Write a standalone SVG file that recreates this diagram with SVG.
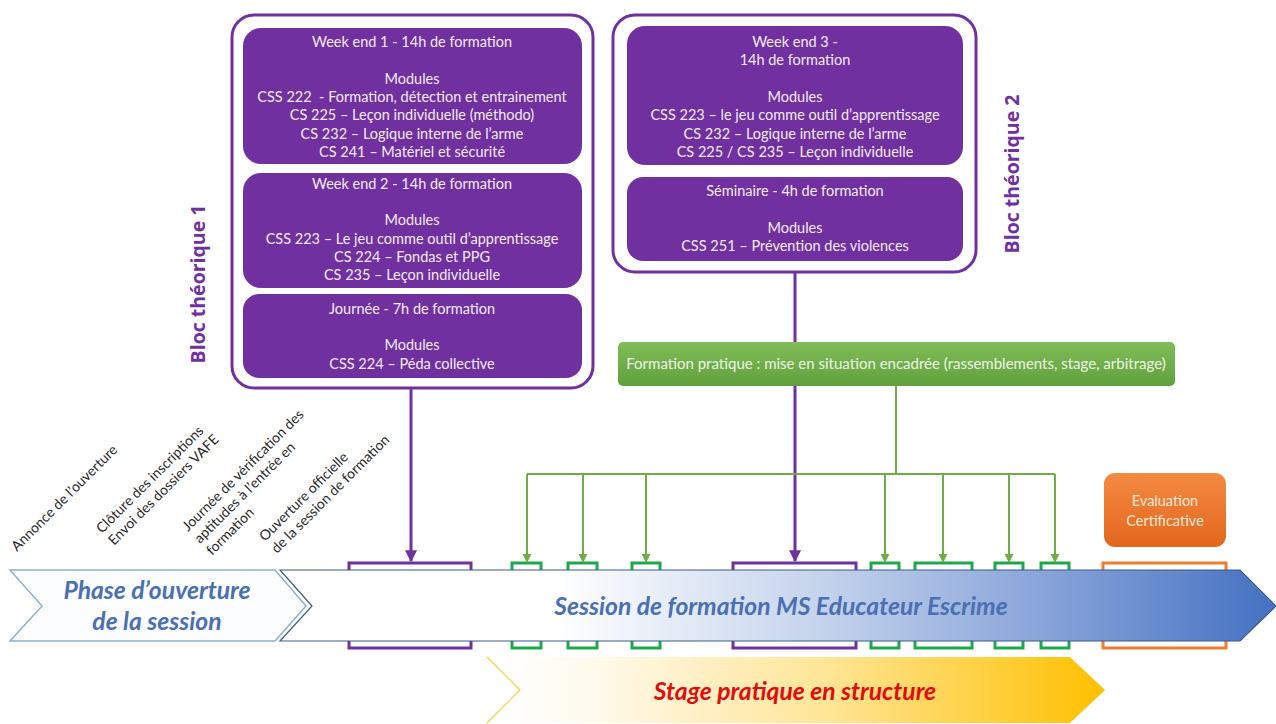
<svg xmlns="http://www.w3.org/2000/svg" width="1276" height="724" viewBox="0 0 1276 724">
<style>
.bt{font-family:Lato,"Liberation Sans",sans-serif;font-size:14.5px;fill:#f3ecf8;text-anchor:middle}
.outer{fill:#fff;stroke:#7030a0;stroke-width:3}
.inner{fill:#7030a0}
.rot{font-family:Lato,"Liberation Sans",sans-serif;font-size:14px;fill:#262626}
.bloc{font-family:"Open Sans","Liberation Sans",sans-serif;font-size:19.5px;font-weight:bold;fill:#7030a0;text-anchor:middle}
.big{font-family:Lato,"Liberation Sans",sans-serif;font-size:24.7px;font-weight:bold;font-style:italic;text-anchor:middle}
.pl{stroke:#7030a0;stroke-width:3;fill:none}
.gl{stroke:#70ad47;stroke-width:2;fill:none}
.pr{fill:none;stroke:#7030a0;stroke-width:3}
.gr{fill:none;stroke:#1fa84a;stroke-width:3}
</style>
<defs>
<marker id="ap" viewBox="0 0 10 10" refX="9" refY="5" markerWidth="4" markerHeight="4" orient="auto" markerUnits="strokeWidth"><path d="M0,0 L10,5 L0,10 z" fill="#7030a0"/></marker>
<marker id="ag" viewBox="0 0 10 10" refX="9" refY="5" markerWidth="4.5" markerHeight="4.5" orient="auto" markerUnits="strokeWidth"><path d="M0,0 L10,5 L0,10 z" fill="#70ad47"/></marker>
<linearGradient id="gSess" gradientUnits="userSpaceOnUse" x1="278" y1="0" x2="1276" y2="0">
<stop offset="0" stop-color="#ffffff"/><stop offset="0.28" stop-color="#ffffff"/><stop offset="0.55" stop-color="#c3d2ec"/><stop offset="0.8" stop-color="#7f9dd6"/><stop offset="1" stop-color="#4471c2"/>
</linearGradient>
<linearGradient id="gStage" gradientUnits="userSpaceOnUse" x1="487" y1="0" x2="1105" y2="0">
<stop offset="0" stop-color="#ffffff"/><stop offset="0.15" stop-color="#fffbf0"/><stop offset="0.55" stop-color="#ffe596"/><stop offset="1" stop-color="#ffc000"/>
</linearGradient>
<linearGradient id="gGreen" x1="0" y1="0" x2="0" y2="1"><stop offset="0" stop-color="#80bd58"/><stop offset="1" stop-color="#60a03c"/></linearGradient>
<linearGradient id="gOrange" x1="0" y1="0" x2="0" y2="1"><stop offset="0" stop-color="#f58a42"/><stop offset="1" stop-color="#e2661c"/></linearGradient>
</defs>
<rect width="1276" height="724" fill="#fff"/>

<g id="arrow-stage">
<path d="M487,657 L1070,657 L1105,690 L1070,723 L487,723 L520,690 Z" fill="url(#gStage)"/>
<path d="M487,657 L520,690 L487,723" fill="none" stroke="#f2d230" stroke-width="1.2"/>
<text class="big" x="795" y="700" fill="#e30b0b">Stage pratique en structure</text>
</g>

<g id="markers-on-timeline">
<rect class="pr" x="349" y="563" width="122" height="85"/>
<rect class="pr" x="733" y="563" width="123" height="85"/>
<rect class="gr" x="512" y="563" width="29" height="85"/>
<rect class="gr" x="568" y="563" width="29" height="85"/>
<rect class="gr" x="632" y="563" width="28" height="85"/>
<rect class="gr" x="871" y="563" width="28" height="85"/>
<rect class="gr" x="915" y="563" width="57" height="85"/>
<rect class="gr" x="995" y="563" width="28" height="85"/>
<rect class="gr" x="1041" y="563" width="28" height="85"/>
<rect fill="none" stroke="#ed7d31" stroke-width="3" x="1103" y="563" width="123" height="85"/>
</g>

<g id="arrow-phase">
<path d="M10,570 L275,570 L306,606 L275,641 L10,641 L42,606 Z" fill="#fbfdfe" stroke="#8fb0cc" stroke-width="1.5"/>
<text class="big" fill="#4a6fb3"><tspan x="157" y="599">Phase d’ouverture</tspan><tspan x="157" y="630">de la session</tspan></text>
</g>

<g id="arrow-session">
<path d="M280,570 L1240,570 L1276,606 L1240,641 L280,641 L312,606 Z" fill="url(#gSess)" stroke="#3d5a8c" stroke-width="1.2"/>
<text class="big" x="781" y="615" fill="#4a6fb3">Session de formation MS Educateur Escrime</text>
</g>

<g id="bloc1">
<rect class="outer" x="232" y="15" width="361" height="373" rx="22"/>
<text class="bloc" transform="translate(205,284) rotate(-90)">Bloc théorique 1</text>
</g>
<g id="we1">
<rect class="inner" x="243" y="28" width="339" height="136" rx="18"/>
<text class="bt"><tspan x="412" y="47">Week end 1 - 14h de formation</tspan><tspan x="412" y="84">Modules</tspan><tspan x="412" y="102">CSS 222 &#160;- Formation, détection et entrainement</tspan><tspan x="412" y="120">CS 225 – Leçon individuelle (méthodo)</tspan><tspan x="412" y="138.5">CS 232 – Logique interne de l’arme</tspan><tspan x="412" y="157">CS 241 – Matériel et sécurité</tspan></text>
</g>
<g id="we2">
<rect class="inner" x="243" y="173" width="339" height="115" rx="18"/>
<text class="bt"><tspan x="412" y="189">Week end 2 - 14h de formation</tspan><tspan x="412" y="225">Modules</tspan><tspan x="412" y="243.5">CSS 223 – Le jeu comme outil d’apprentissage</tspan><tspan x="412" y="262">CS 224 – Fondas et PPG</tspan><tspan x="412" y="280">CS 235 – Leçon individuelle</tspan></text>
</g>
<g id="journee">
<rect class="inner" x="243" y="294" width="339" height="84" rx="16"/>
<text class="bt"><tspan x="412" y="314">Journée - 7h de formation</tspan><tspan x="412" y="350">Modules</tspan><tspan x="412" y="369">CSS 224 – Péda collective</tspan></text>
</g>

<g id="bloc2">
<rect class="outer" x="613" y="15" width="363" height="257" rx="22"/>
<text class="bloc" transform="translate(1019,174) rotate(-90)">Bloc théorique 2</text>
</g>
<g id="we3">
<rect class="inner" x="627" y="26" width="336" height="139" rx="18"/>
<text class="bt"><tspan x="795" y="47">Week end 3 -</tspan><tspan x="795" y="65">14h de formation</tspan><tspan x="795" y="102">Modules</tspan><tspan x="795" y="120">CSS 223 – le jeu comme outil d’apprentissage</tspan><tspan x="795" y="138.5">CS 232 – Logique interne de l’arme</tspan><tspan x="795" y="157">CS 225 / CS 235 – Leçon individuelle</tspan></text>
</g>
<g id="seminaire">
<rect class="inner" x="627" y="177" width="336" height="84" rx="16"/>
<text class="bt"><tspan x="795" y="196">Séminaire - 4h de formation</tspan><tspan x="795" y="233">Modules</tspan><tspan x="795" y="251">CSS 251 – Prévention des violences</tspan></text>
</g>

<g id="connectors">
<line class="pl" x1="411" y1="389" x2="411" y2="561" marker-end="url(#ap)"/>
<line class="pl" x1="795" y1="273" x2="795" y2="561" marker-end="url(#ap)"/>
<line class="gl" x1="896" y1="386" x2="896" y2="474"/>
<line class="gl" x1="527" y1="474" x2="1055" y2="474"/>
<line class="gl" x1="527" y1="474" x2="527" y2="562" marker-end="url(#ag)"/>
<line class="gl" x1="583" y1="474" x2="583" y2="562" marker-end="url(#ag)"/>
<line class="gl" x1="646" y1="474" x2="646" y2="562" marker-end="url(#ag)"/>
<line class="gl" x1="885" y1="474" x2="885" y2="562" marker-end="url(#ag)"/>
<line class="gl" x1="943" y1="474" x2="943" y2="562" marker-end="url(#ag)"/>
<line class="gl" x1="1009" y1="474" x2="1009" y2="562" marker-end="url(#ag)"/>
<line class="gl" x1="1055" y1="474" x2="1055" y2="562" marker-end="url(#ag)"/>
</g>

<g id="formation-pratique">
<rect x="618" y="342" width="557" height="44" rx="5" fill="url(#gGreen)"/>
<text x="896" y="369" font-family="Lato,'Liberation Sans',sans-serif" font-size="15" fill="#eef5e8" text-anchor="middle">Formation pratique : mise en situation encadrée (rassemblements, stage, arbitrage)</text>
</g>

<g id="evaluation">
<rect x="1104" y="473" width="122" height="74" rx="11" fill="url(#gOrange)"/>
<text font-family="Lato,'Liberation Sans',sans-serif" font-size="14.5" fill="#fde8d8" text-anchor="middle"><tspan x="1165" y="506">Evaluation</tspan><tspan x="1165" y="526">Certificative</tspan></text>
</g>

<g id="timeline-labels">
<text class="rot" x="17" y="552" transform="rotate(-45 17 552)">Annonce de l’ouverture</text>
<text class="rot" transform="rotate(-45 102 534)"><tspan x="102" y="534">Clôture des inscriptions</tspan><tspan x="102" y="551">Envoi des dossiers VAFE</tspan></text>
<text class="rot" transform="rotate(-45 188 532)"><tspan x="188" y="532">Journée de vérification des</tspan><tspan x="188" y="549">aptitudes à l’entrée en</tspan><tspan x="188" y="566">formation</tspan></text>
<text class="rot" transform="rotate(-45 265 542)"><tspan x="265" y="542">Ouverture officielle</tspan><tspan x="265" y="559">de la session de formation</tspan></text>
</g>
</svg>
